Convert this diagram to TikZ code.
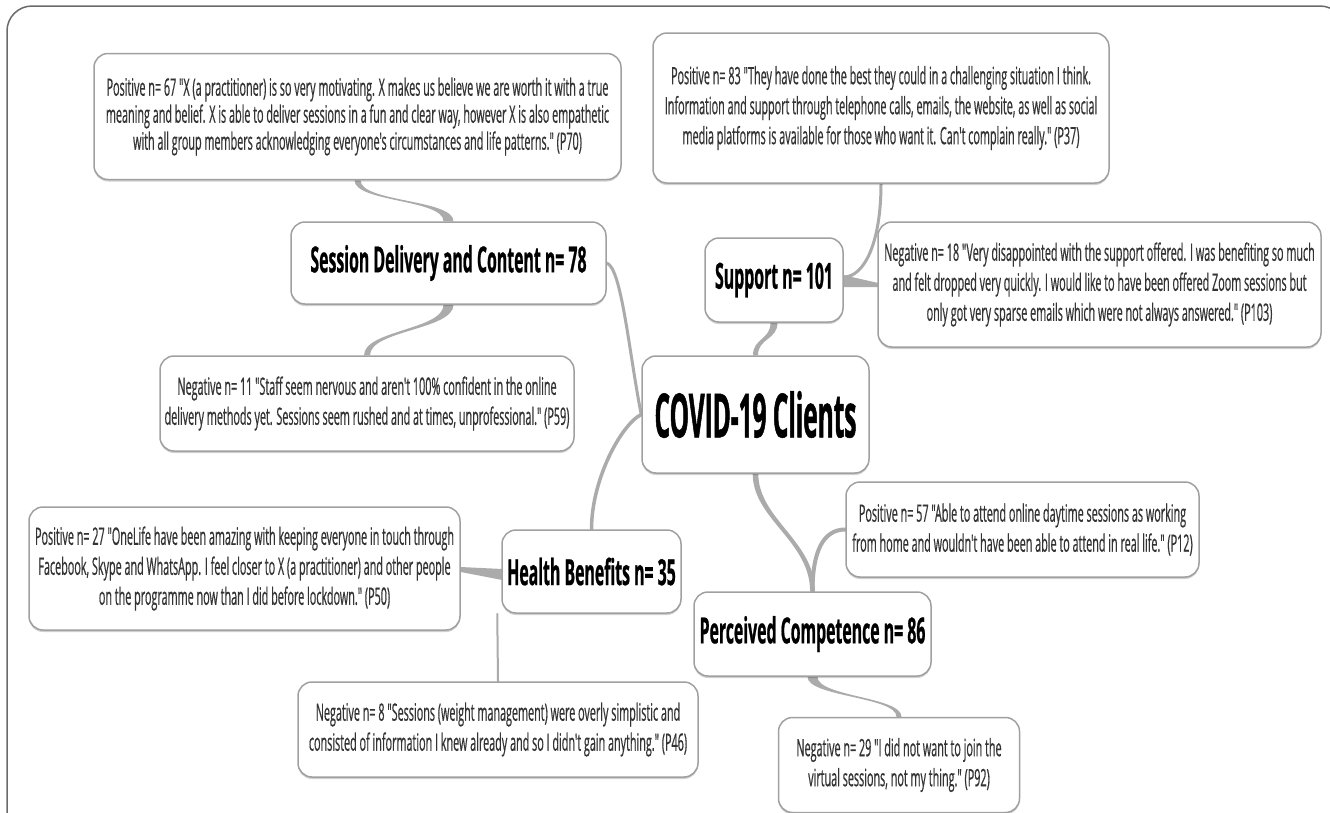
\documentclass[tikz,border=0pt]{standalone}
\usepackage{fontspec}
\setmainfont{Open Sans}
\newfontfamily\bodyfont{Open Sans}[FakeStretch=0.45,FakeBold=0.5]
\newfontfamily\headfont{Open Sans}[FakeStretch=0.44,FakeBold=0.6]
\newfontfamily\rootfont{Open Sans}[FakeStretch=0.40,FakeBold=0.8]
\usetikzlibrary{shadows,calc,backgrounds}
\definecolor{conn}{HTML}{ABABAB}
\definecolor{boxline}{HTML}{A0A0A0}
\definecolor{bodytext}{HTML}{333333}
\definecolor{framecol}{HTML}{6A6A6A}
\tikzset{
 box/.style={draw=boxline, line width=1.5pt, fill=white, rounded corners=14pt, inner sep=0pt, align=center,
   drop shadow={shadow xshift=0pt, shadow yshift=-2pt, opacity=0.18, fill=black}},
 qbox/.style={box, text=bodytext, font=\bodyfont\fontsize{24}{30}\selectfont},
 topicbox/.style={box, text=black, font=\headfont\bfseries\fontsize{36}{42}\selectfont},
 rootbox/.style={box, text=black, font=\rootfont\bfseries\fontsize{61}{68}\selectfont},
 link/.style={draw=conn, line width=#1, line cap=round},
 link/.default=4pt,
}
% tapered connector between two vertically oriented anchors
% #1 start, #2 end, #3 start control length, #4 end control length, #5 half width at start, #6 half width at end
\newcommand\vtaper[6]{%
 \fill[conn] ($(#1)+(-#5,0)$) .. controls +(0,#3) and +(0,-#4) .. ($(#2)+(-#6,0)$)
   -- ($(#2)+(#6,0)$) .. controls +(0,-#4) and +(0,#3) .. ($(#1)+(#5,0)$) -- cycle;}
\begin{document}
\begin{tikzpicture}[x=1pt,y=-1pt]
\useasboundingbox (0,0) rectangle (1330,812);
\clip (0,0) rectangle (1330,812);
\draw[framecol, line width=1.5pt, rounded corners=25pt] (7,6) rectangle (1345,840);

% root
\node[rootbox, minimum width=227pt, minimum height=117pt] (covid) at (755.5,414.5) {COVID-19 Clients};

% topics
\node[topicbox, minimum width=315pt, minimum height=82pt] (session) at (448.5,263) {Session Delivery and Content n= 78};
\node[topicbox, minimum width=138pt, minimum height=84pt] (support) at (774,280) {Support n= 101};
\node[topicbox, minimum width=179pt, minimum height=83pt] (hb) at (591.5,571.5) {Health Benefits n= 35};
\node[topicbox, minimum width=237pt, minimum height=84pt] (pc) at (812.5,634) {Perceived Competence n= 86};

% quotes
\node[qbox, minimum width=527pt, minimum height=126pt, font=\bodyfont\fontsize{24}{27}\selectfont] (p67) at (357.5,116.5)
 {Positive n= 67 "X (a practitioner) is so very motivating. X makes us believe we are worth it with a true\\
  meaning and belief. X is able to deliver sessions in a fun and clear way, however X is also empathetic\\
  with all group members acknowledging everyone's circumstances and life patterns." (P70)};
\node[qbox, minimum width=414pt, minimum height=95pt] (p59) at (367,403.5)
 {Negative n= 11 "Staff seem nervous and aren't 100\% confident in the online\\
  delivery methods yet. Sessions seem rushed and at times, unprofessional." (P59)};
\node[qbox, minimum width=456pt, minimum height=150pt] (p83) at (881,108)
 {Positive n= 83 "They have done the best they could in a challenging situation I think.\\
  Information and support through telephone calls, emails, the website, as well as social\\
  media platforms is available for those who want it. Can't complain really." (P37)};
\node[qbox, minimum width=443pt, minimum height=125pt] (p103) at (1099.5,284.5)
 {Negative n= 18 "Very disappointed with the support offered. I was benefiting so much\\
  and felt dropped very quickly. I would like to have been offered Zoom sessions but\\
  only got very sparse emails which were not always answered." (P103)};
\node[qbox, minimum width=431pt, minimum height=123pt] (p27) at (244.5,568.5)
 {Positive n= 27 "OneLife have been amazing with keeping everyone in touch through\\
  Facebook, Skype and WhatsApp. I feel closer to X (a practitioner) and other people\\
  on the programme now than I did before lockdown." (P50)};
\node[qbox, minimum width=400pt, minimum height=95pt] (p46) at (498,729.5)
 {Negative n= 8 "Sessions (weight management) were overly simplistic and\\
  consisted of information I knew already and so I didn't gain anything." (P46)};
\node[qbox, minimum width=353pt, minimum height=95pt] (p12) at (1022.5,529.5)
 {Positive n= 57 "Able to attend online daytime sessions as working\\
  from home and wouldn't have been able to attend in real life." (P12)};
\node[qbox, minimum width=241pt, minimum height=95pt] (p92) at (899,765)
 {Negative n= 29 "I did not want to join the\\
  virtual sessions, not my thing." (P92)};

\begin{pgfonlayer}{background}
 \fill[white] (0,0) rectangle (1330,812);
 \vtaper{p67.south}{session.north}{22}{22}{3}{5}
 \vtaper{session.south}{p59.north}{25}{25}{5}{3}
 \draw[link=3pt] (session.east) .. controls +(15,5) and +(-12,-60) .. (covid.west);
 \draw[link=3.5pt] (covid.west) .. controls +(-20,10) and +(0,-50) .. (hb.north);
 \fill[conn] ($(p27.east)+(0,-1.5)$) -- ($(hb.west)+(1,-2.5)$) -- ($(hb.west)+(1,8.5)$) -- ($(p27.east)+(0,3.5)$) -- cycle;
 \draw[link=2pt] ($(hb.south west)+(-4,0)$) -- (p46.north);
 \vtaper{support.south}{covid.north}{17}{17}{3.5}{2.5}
 \draw[link=3pt] (p83.south) .. controls +(0,60) and +(20,0) .. ($(support.east)+(0,-3)$);
 \fill[conn] ($(p103.west)+(1,-1.5)$) -- ($(support.east)+(-1,-5)$) -- ($(support.east)+(-1,7)$) -- ($(p103.west)+(1,2.5)$) -- cycle;
 \vtaper{covid.south}{pc.north}{45}{50}{2.8}{2.4}
 \draw[link=4pt] (p12.west) .. controls +(-22,0) and +(0,-40) .. (pc.north);
 \vtaper{pc.south}{p92.north}{20}{20}{5}{2.5}
\end{pgfonlayer}
\end{tikzpicture}
\end{document}
